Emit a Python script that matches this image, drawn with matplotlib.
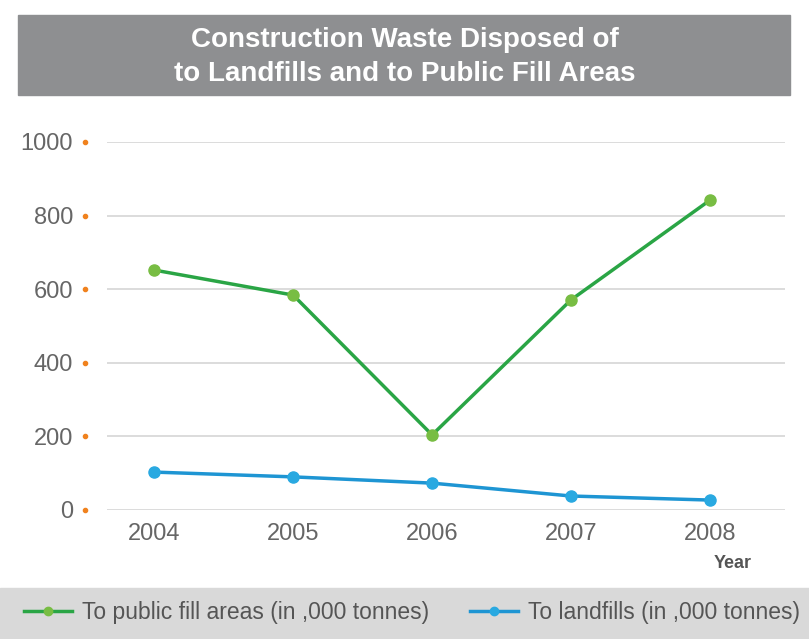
import matplotlib
matplotlib.use('Agg')
import matplotlib.pyplot as plt
import matplotlib.transforms as mtransforms
from matplotlib.lines import Line2D
from matplotlib.patches import Rectangle

years = [2004, 2005, 2006, 2007, 2008]
public_fill = [652, 584, 204, 571, 842]
landfills = [103, 90, 73, 38, 27]
y_ticks = [0, 200, 400, 600, 800, 1000]

title = 'Construction Waste Disposed of\nto Landfills and to Public Fill Areas'
label_fill = 'To public fill areas (in ,000 tonnes)'
label_land = 'To landfills (in ,000 tonnes)'

GREEN_LINE = '#2aa545'
GREEN_DOT = '#78bd43'
BLUE_LINE = '#1e95d3'
BLUE_DOT = '#29a9e1'
GRID = '#d6d6d6'
TEXT = '#666666'

plt.rcParams['font.family'] = ['Liberation Sans', 'DejaVu Sans']

fig = plt.figure(figsize=(8.09, 6.39), dpi=100)
W, H = 809, 639

# title banner
fig.patches.append(Rectangle((18 / W, 1 - 95 / H), 772 / W, 80 / H,
                             transform=fig.transFigure, color='#8e8f91', zorder=0))
fig.text(0.5, 1 - 57 / H, title, ha='center', va='center', color='white',
         fontsize=20, fontweight='bold', linespacing=1.38)

# legend strip
fig.patches.append(Rectangle((0, 0), 1, 51 / H, transform=fig.transFigure,
                             color='#d9d9d9', zorder=0))

ax = fig.add_axes([107 / W, 1 - 510 / H, 678 / W, 368 / H])
ax.set_xlim(2003.66, 2008.54)
ax.set_ylim(0, 1000)

for t in y_ticks:
    ax.axhline(t, color=GRID, lw=1.2, zorder=1)

ax.plot(years, public_fill, color=GREEN_LINE, lw=2.5, marker='o', ms=8,
        mfc=GREEN_DOT, mec=GREEN_DOT, clip_on=False, zorder=3)
ax.plot(years, landfills, color=BLUE_LINE, lw=2.5, marker='o', ms=8,
        mfc=BLUE_DOT, mec=BLUE_DOT, clip_on=False, zorder=3)

# orange dots next to y tick labels
trans = mtransforms.blended_transform_factory(ax.transAxes, ax.transData)
ax.scatter([-22 / 678] * len(y_ticks), y_ticks, s=9, color='#f0821e',
           transform=trans, clip_on=False, zorder=4)

ax.set_yticks(y_ticks)
ax.set_yticklabels([str(t) for t in y_ticks])
ax.set_xticks(years)
ax.set_xticklabels([str(y) for y in years])
ax.tick_params(axis='y', length=0, pad=24.5, labelsize=17, labelcolor=TEXT)
ax.tick_params(axis='x', length=0, pad=9, labelsize=17, labelcolor=TEXT)
for s in ax.spines.values():
    s.set_visible(False)

fig.text(733 / W, 1 - 563 / H, 'Year', ha='center', va='center',
         fontsize=13, fontweight='bold', color='#555555')

handles = [
    Line2D([], [], color=GREEN_LINE, lw=2.5, marker='o', ms=6, mfc=GREEN_DOT, mec=GREEN_DOT),
    Line2D([], [], color=BLUE_LINE, lw=2.5, marker='o', ms=6, mfc=BLUE_DOT, mec=BLUE_DOT),
]
fig.legend(handles, [label_fill, label_land], loc='center', ncol=2,
           bbox_to_anchor=(412 / W, 26 / H), frameon=False, fontsize=16.5,
           labelcolor='#555555', handlelength=2.1, handletextpad=0.44,
           columnspacing=1.75, borderpad=0, borderaxespad=0)

fig.savefig('out.png', dpi=100)
